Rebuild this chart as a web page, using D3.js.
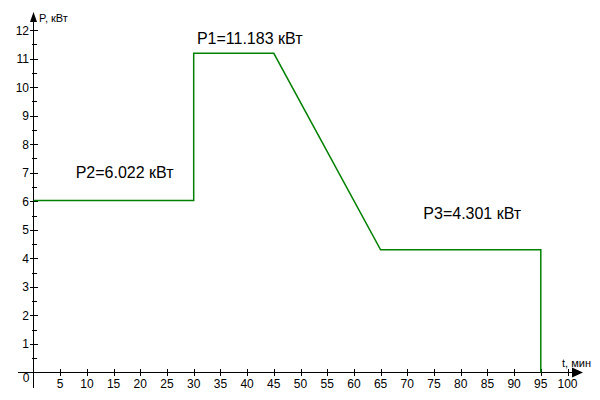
<!DOCTYPE html>
<html><head><meta charset="utf-8">
<script src="https://cdn.jsdelivr.net/npm/d3@7"></script>
<style>body{margin:0;background:#fff}svg{display:block}text{font-family:"Liberation Sans",Arial,sans-serif}</style>
</head><body>
<script>
const tValues = [0, 30, 30, 45, 65, 95, 95];
const pValues = [6.022, 6.022, 11.183, 11.183, 4.301, 4.301, 0];
const xTicks = [5,10,15,20,25,30,35,40,45,50,55,60,65,70,75,80,85,90,95,100];
const yTicks = [1,2,3,4,5,6,7,8,9,10,11,12];
const yMinor = [0.5,1.5,2.5,3.5,4.5,5.5,6.5,7.5,8.5,9.5,10.5,11.5];
const labelTexts = ["P1=11.183 кВт", "P2=6.022 кВт", "P3=4.301 кВт"];
const labelT = [30.6, 7.9, 73];
const labelP = [11.5, 6.8, 5.38];
const W=600,H=400;
const svg=d3.select("body").append("svg").attr("width",W).attr("height",H);
const x=d3.scaleLinear().domain([0,100]).range([33.5,567.5]);
const y=d3.scaleLinear().domain([0,12]).range([372.5,30]);
const X0=x(0), Y0=y(0);
const g=svg.append("g").attr("stroke","#000").attr("stroke-width",1).attr("shape-rendering","crispEdges");
g.append("line").attr("x1",18).attr("x2",575).attr("y1",Y0).attr("y2",Y0);
g.append("line").attr("x1",X0).attr("x2",X0).attr("y1",388).attr("y2",20);
g.selectAll(".xt").data(xTicks).join("line").attr("x1",d=>Math.round(x(d))+0.5).attr("x2",d=>Math.round(x(d))+0.5).attr("y1",Y0-4).attr("y2",Y0+3);
g.selectAll(".yt").data(yTicks).join("line").attr("y1",d=>Math.round(y(d))+0.5).attr("y2",d=>Math.round(y(d))+0.5).attr("x1",X0-4).attr("x2",X0+4);
g.selectAll(".ym").data(yMinor).join("line").attr("y1",d=>Math.round(y(d))+0.5).attr("y2",d=>Math.round(y(d))+0.5).attr("x1",X0-2).attr("x2",X0+3);
svg.append("path").attr("d",`M${X0},12 L${X0-3.5},22 L${X0+3.5},22Z`).attr("fill","#000");
svg.append("path").attr("d",`M583,${Y0} L572,${Y0-5} L572,${Y0+5}Z`).attr("fill","#000");
svg.selectAll(".xl").data(xTicks).join("text").attr("x",d=>x(d)).attr("y",388).attr("text-anchor","middle").attr("font-size",12).text(d=>d);
svg.selectAll(".yl").data(yTicks).join("text").attr("x",29).attr("y",d=>y(d)+4.5).attr("text-anchor","end").attr("font-size",12).text(d=>d);
svg.append("text").attr("x",29.5).attr("y",382).attr("text-anchor","end").attr("font-size",12).text("0");
svg.append("text").attr("x",39).attr("y",22).attr("font-size",11).text("P, кВт");
svg.append("text").attr("x",562).attr("y",367).attr("font-size",11).text("t, мин");
const line=d3.line().x((d,i)=>x(tValues[i])).y(d=>y(d));
svg.append("path").attr("d",line(pValues)).attr("fill","none").attr("stroke","#008000").attr("stroke-width",1.5);
svg.selectAll(".ann").data(labelTexts).join("text").attr("x",(d,i)=>x(labelT[i])).attr("y",(d,i)=>y(labelP[i])).attr("font-size",16).text(d=>d);
</script>
</body></html>
